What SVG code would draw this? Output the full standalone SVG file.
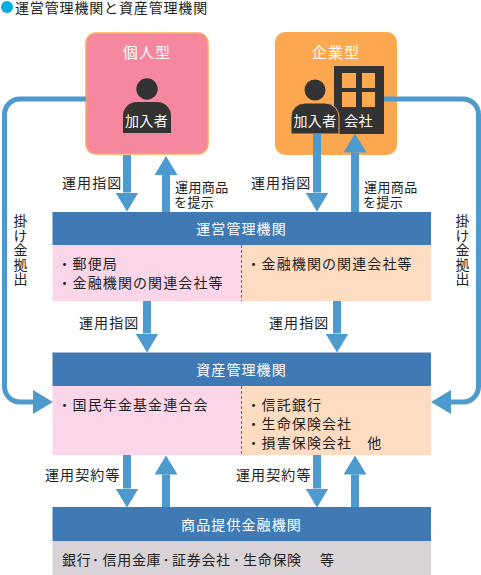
<svg xmlns="http://www.w3.org/2000/svg" width="481" height="575" viewBox="0 0 481 575">
<style>
text{font-family:"Noto Sans CJK JP","Noto Sans",sans-serif;font-size:14px;letter-spacing:1.1px;fill:#222}
.w{fill:#fff}
.m{text-anchor:middle}
.s{font-size:13px;letter-spacing:.4px}
.v{writing-mode:vertical-rl;letter-spacing:.4px}
.bar{fill:#3f7ab5}
.pink{fill:#fbd6e8}
.peach{fill:#fedcc2}
.dark{fill:#333}
.a{fill:none;stroke:#4d9acf;stroke-width:8;marker-end:url(#h)}
.l{fill:none;stroke:#4d9acf;stroke-width:5;marker-end:url(#g)}
.d{stroke:#3f7ab5;stroke-width:1;stroke-dasharray:3 2}
</style>
<defs>
<marker id="h" markerUnits="userSpaceOnUse" markerWidth="19" markerHeight="23" refX="0" refY="11.5" orient="auto"><path d="M0 0L19 11.5L0 23Z" fill="#4d9acf"/></marker>
<marker id="g" markerUnits="userSpaceOnUse" markerWidth="20" markerHeight="24" refX="0" refY="12" orient="auto"><path d="M0 0L20 12L0 24Z" fill="#4d9acf"/></marker>
</defs>
<g id="title"><circle cx="7" cy="7" r="6" fill="#00aee0"/><text x="15" y="13" style="letter-spacing:.85px">運営管理機関と資産管理機関</text></g>
<g id="individual">
<rect x="86" y="33" width="122" height="121" rx="10" fill="#f5879f" stroke="#fbaa55" stroke-width="1.5"/>
<text class="w m" x="147" y="58" style="font-size:15px">個人型</text>
<circle class="dark" cx="147" cy="89" r="10.7"/>
<path class="dark" d="M123 133V116a14 14 0 0 1 14-14h20a14 14 0 0 1 14 14v17Z"/>
<text class="w m" x="146.500" y="126" style="letter-spacing:.3px">加入者</text>
</g>
<g id="company">
<rect x="275" y="32" width="122" height="123" rx="10" fill="#fca850"/>
<text class="w m" x="336" y="58" style="font-size:15px">企業型</text>
<rect class="dark" x="334" y="66" width="50" height="68"/>
<g fill="#fca850"><rect x="342" y="73" width="14" height="15"/><rect x="362" y="73" width="13" height="15"/><rect x="342" y="92" width="14" height="15"/><rect x="362" y="92" width="13" height="15"/></g>
<text class="w m" x="358.500" y="126" style="letter-spacing:.3px">会社</text>
<circle class="dark" cx="315" cy="90" r="10.5"/>
<path class="dark" stroke="#fca850" d="M291 134V117a14 14 0 0 1 14-14h20a14 14 0 0 1 14 14v17Z"/>
<text class="w m" x="315" y="126" style="letter-spacing:.3px">加入者</text>
</g>
<g id="unei">
<rect class="bar" x="52.500" y="212" width="378.500" height="33"/>
<rect class="pink" x="52.500" y="245" width="189" height="56"/>
<rect class="peach" x="241.500" y="245" width="189.500" height="56"/>
<line class="d" x1="241.500" y1="245" x2="241.500" y2="301"/>
<text class="w m" x="241.500" y="234">運営管理機関</text>
<text x="57.500" y="269">・郵便局</text><text x="57.500" y="288">・金融機関の関連会社等</text>
<text x="246.500" y="269">・金融機関の関連会社等</text>
</g>
<g id="shisan">
<rect class="bar" x="52.500" y="352.500" width="378.500" height="33.500"/>
<rect class="pink" x="52.500" y="386" width="189" height="69"/>
<rect class="peach" x="241.500" y="386" width="189.500" height="69"/>
<line class="d" x1="241.500" y1="386" x2="241.500" y2="455"/>
<text class="w m" x="241.500" y="375">資産管理機関</text>
<text x="57.500" y="410">・国民年金基金連合会</text>
<text x="246.500" y="410">・信託銀行</text><text x="246.500" y="429">・生命保険会社</text><text x="246.500" y="448">・損害保険会社　他</text>
</g>
<g id="shohin">
<rect class="bar" x="52.500" y="507" width="378.500" height="34"/>
<rect x="52.500" y="541" width="378.500" height="34" fill="#d9d3d8"/>
<text class="w m" x="241.500" y="530">商品提供金融機関</text>
<text x="62" y="565" style="letter-spacing:.7px">銀行<tspan x="92">･</tspan><tspan x="102.500">信用金庫</tspan><tspan x="162.500">･</tspan><tspan x="172">証券会社</tspan><tspan x="233">･</tspan><tspan x="243">生命保険</tspan><tspan x="320">等</tspan></text>
</g>
<g id="connectors">
<path class="l" d="M86 99H20A15.500 15.500 0 0 0 4.500 114.500V386.500A15.500 15.500 0 0 0 20 402H33"/>
<path class="l" d="M384 99H463A15.500 15.500 0 0 1 478.500 114.500V386.500A15.500 15.500 0 0 1 463 402H451"/>
<path class="a" d="M127 155V192.500"/><path class="a" d="M166 212V175"/>
<path class="a" d="M317 134V192.500"/><path class="a" d="M355 212V152.500"/>
<path class="a" d="M147 301V333.500"/><path class="a" d="M337 301V333.500"/>
<path class="a" d="M127 455V488.500"/><path class="a" d="M166 507V474.500"/>
<path class="a" d="M317 455V488.500"/><path class="a" d="M355 507V474.500"/>
</g>
<g id="labels">
<text x="62" y="188">運用指図</text><text x="251" y="188">運用指図</text>
<text class="s" x="175" y="192">運用商品</text><text class="s" x="174" y="207">を提示</text>
<text class="s" x="364" y="192">運用商品</text><text class="s" x="363" y="207">を提示</text>
<text x="79" y="328">運用指図</text><text x="269" y="328">運用指図</text>
<text x="45" y="480">運用契約等</text><text x="236" y="480">運用契約等</text>
<text class="v" x="20.500" y="214">掛け金拠出</text><text class="v" x="462.500" y="214">掛け金拠出</text>
</g>
</svg>
